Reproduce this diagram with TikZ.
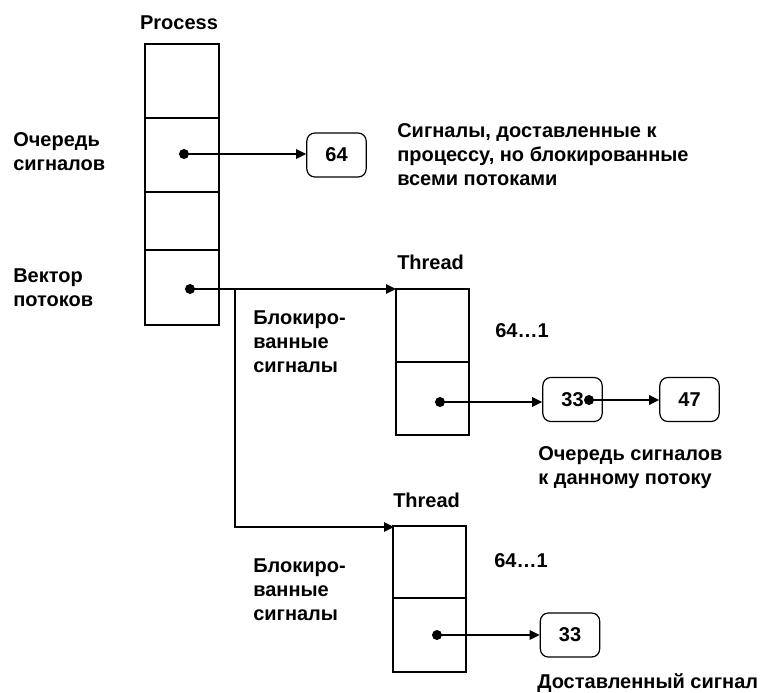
\documentclass[tikz,border=0pt]{standalone}
\usepackage{fontspec}
\setmainfont{Liberation Sans}
\usetikzlibrary{arrows.meta,positioning}

\begin{document}
\begin{tikzpicture}[x=0.75pt,y=-0.75pt,
  every node/.style={font=\bfseries\fontsize{15}{18}\selectfont},
  cell/.style={line width=0.9pt},
  sigbox/.style={draw,line width=0.9pt,rounded corners=6pt,minimum width=44.5pt,minimum height=33pt,inner sep=0pt},
  dot/.style={circle,fill,inner sep=0pt,minimum size=7.5pt},
  ptr/.style={-{Triangle[length=7.5pt,width=7pt]},line width=1.5pt},
  lbl/.style={anchor=north west,align=left,inner sep=0pt}]
\useasboundingbox (0,0) rectangle (774,692);
% process
\draw[cell] (145,44) rectangle (219,325);
\foreach \y in {118,192,250}
    \draw[cell] (145,\y) -- (219,\y);
\node[anchor=north,inner sep=0pt] (proc) at (179,15) {Process};
\node[lbl] (queuelbl) at (13,132) {Очередь\\сигналов};
\node[lbl] (veclbl) at (13,268) {Вектор\\потоков};
\node[dot] (qdot) at (184,154) {};
\node[sigbox] (s64) at (336.5,155) {64};
\node[lbl] (blocklbl) at (397,123) {Сигналы, доставленные к\\процессу, но блокированные\\всеми потоками};
\node[dot] (vdot) at (190,289) {};
\draw[ptr] (qdot.center) -- (qdot.center -| s64.west);
% first thread
\draw[cell] (396,289) rectangle (469,435);
\draw[cell] (396,362) -- (469,362);
\coordinate (t1) at (396,289);
\coordinate (br) at (235,289);
\node[lbl] (thr1) at (397,255) {Thread};
\node[lbl] (bl1) at (253,310) {Блокиро-\\ванные\\сигналы};
\node[lbl] (rng1) at (495,323) {64…1};
\node[dot] (tdot1) at (440,402) {};
\node[sigbox] (s33a) at (572.5,399.5) {33};
\node[dot] (ndot) at (589,400) {};
\node[sigbox] (s47) at (689.5,399.5) {47};
\node[lbl] (qlbl) at (538,446) {Очередь сигналов\\к данному потоку};
\draw[ptr] (vdot.center) -- (t1);
\draw[ptr] (tdot1.center) -- (tdot1.center -| s33a.west);
\draw[ptr] (ndot.center) -- (ndot.center -| s47.west);
% second thread
\draw[cell] (393,526) rectangle (466,672);
\draw[cell] (393,598) -- (466,598);
\coordinate (t2) at (394,527);
\node[lbl] (thr2) at (393,493) {Thread};
\node[lbl] (bl2) at (253,558) {Блокиро-\\ванные\\сигналы};
\node[lbl] (rng2) at (494,553) {64…1};
\node[dot] (tdot2) at (437,635) {};
\node[sigbox] (s33b) at (570,635) {33};
\node[lbl] (dlbl) at (537,673) {Доставленный сигнал};
\draw[ptr] (br) |- (t2);
\draw[ptr] (tdot2.center) -- (tdot2.center -| s33b.west);
\end{tikzpicture}
\end{document}
